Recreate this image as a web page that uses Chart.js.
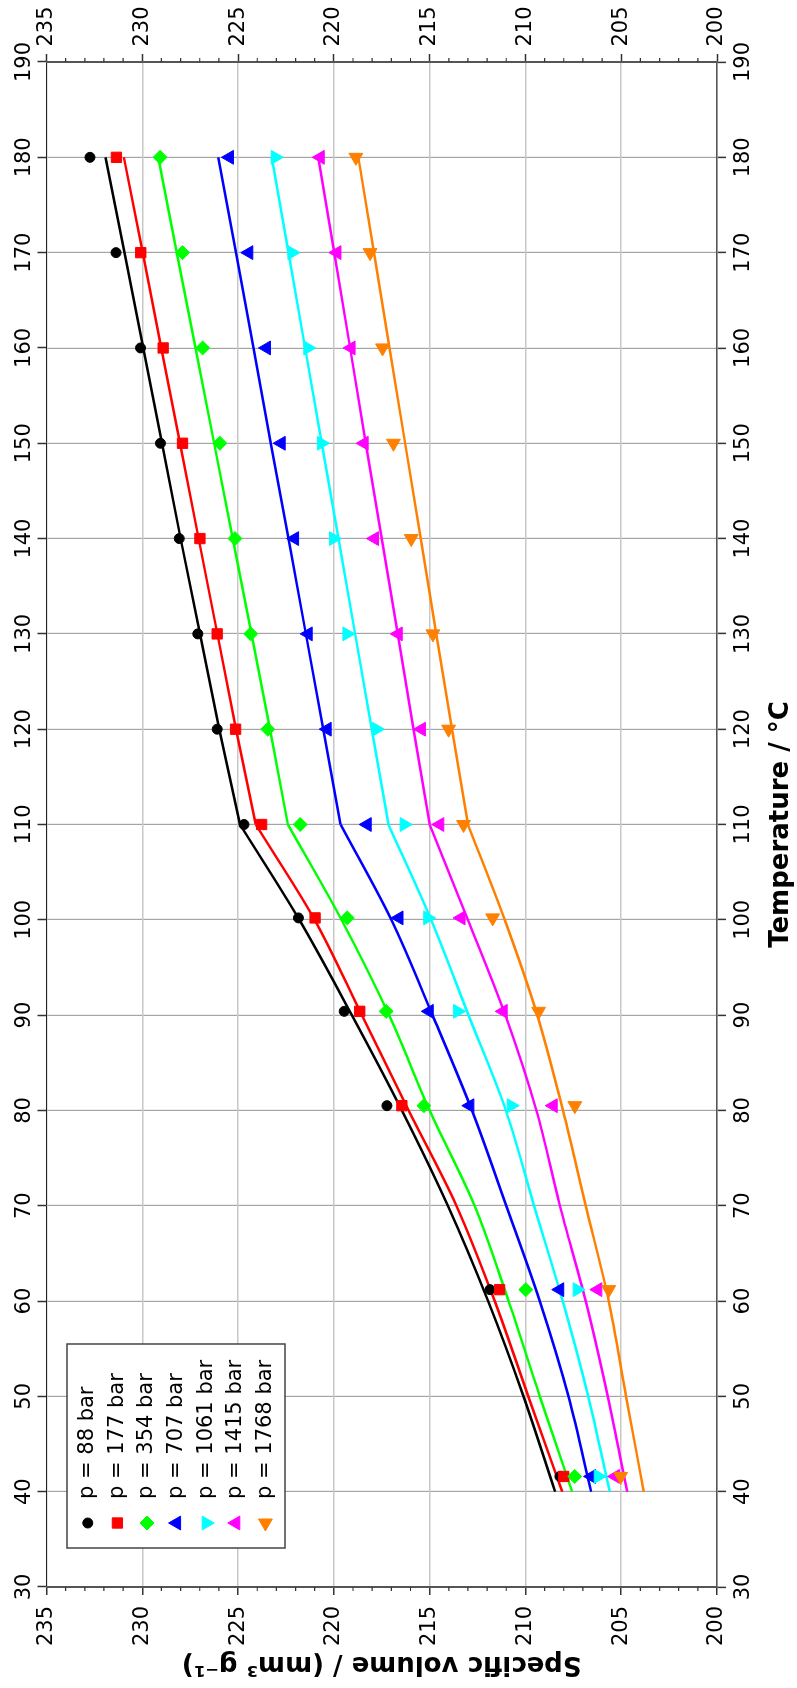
<!DOCTYPE html>
<html>
<head>
<meta charset="utf-8">
<script src="https://cdn.jsdelivr.net/npm/chart.js@4.4.1/dist/chart.umd.min.js"></script>
<style>
  html, body { margin: 0; padding: 0; background: #fff; overflow: hidden; }
  /* chart is drawn landscape and turned a quarter turn to the left */
  #wrap { position: absolute; left: 0; top: 0; width: 1688px; height: 797px;
          transform-origin: 0 0; transform: translateY(1688px) rotate(-90deg); }
</style>
</head>
<body>
<div id="wrap"><canvas id="chart" width="1688" height="797"></canvas></div>
<script>
// measured temperatures (°C)
const measT = [41.6, 61.2, 80.5, 90.4, 100.2, 110, 120, 130, 140, 150, 160, 170, 180];
// temperatures where the fitted curves are read
const fitT = [40, 50, 60, 70, 80, 90, 100, 110, 120, 130, 140, 150, 160, 170, 180];
const kinkT = 110; // curves change from melt to glass branch here

const pressureLabels = ['p = 88 bar', 'p = 177 bar', 'p = 354 bar', 'p = 707 bar',
                        'p = 1061 bar', 'p = 1415 bar', 'p = 1768 bar'];

// measured specific volume, mm3/g
const meas88   = [208.2, 211.85, 217.23, 219.46, 221.85, 224.69, 226.09, 227.1, 228.07, 229.05, 230.09, 231.37, 232.73];
const meas177  = [208.0, 211.35, 216.45, 218.65, 220.98, 223.77, 225.13, 226.09, 226.99, 227.9, 228.91, 230.08, 231.35];
const meas354  = [207.43, 209.98, 215.3, 217.27, 219.3, 221.76, 223.45, 224.34, 225.16, 225.95, 226.85, 227.9, 229.07];
const meas707  = [206.55, 208.21, 212.9, 215.02, 216.6, 218.26, 220.35, 221.34, 222.05, 222.75, 223.52, 224.44, 225.45];
const meas1061 = [206.2, 207.3, 210.74, 213.54, 215.1, 216.33, 217.78, 219.32, 220.02, 220.65, 221.36, 222.19, 223.06];
const meas1415 = [205.3, 206.22, 208.55, 211.16, 213.36, 214.47, 215.43, 216.64, 217.88, 218.42, 219.1, 219.84, 220.71];
const meas1768 = [205.03, 205.65, 207.42, 209.31, 211.71, 213.23, 214.01, 214.83, 215.96, 216.89, 217.46, 218.11, 218.85];

// fitted curves
const fit88   = [208.45, 210.1, 211.95, 214.05, 216.45, 219.06, 221.8, 224.9, 225.98, 226.99, 228.0, 228.97, 229.95, 230.93, 231.92];
const fit177  = [208.08, 209.85, 211.6, 213.6, 216.1, 218.54, 221.0, 224.08, 225.11, 226.08, 227.06, 228.03, 229.01, 229.98, 230.96];
const fit354  = [207.56, 209.25, 210.88, 212.65, 215.0, 217.12, 219.6, 222.4, 223.33, 224.3, 225.28, 226.25, 227.22, 228.2, 229.17];
const fit707  = [206.57, 207.75, 209.25, 211.0, 212.79, 214.85, 217.0, 219.65, 220.55, 221.46, 222.37, 223.29, 224.2, 225.11, 226.03];
const fit1061 = [205.6, 206.72, 208.05, 209.55, 211.02, 212.97, 214.92, 217.15, 218.02, 218.89, 219.76, 220.63, 221.5, 222.37, 223.24];
const fit1415 = [204.69, 205.7, 206.85, 208.2, 209.43, 211.05, 213.0, 215.0, 215.84, 216.67, 217.5, 218.33, 219.15, 219.98, 220.81];
const fit1768 = [203.82, 204.75, 205.65, 206.85, 208.04, 209.38, 211.08, 213.0, 213.83, 214.65, 215.46, 216.28, 217.09, 217.91, 218.72];

const measSets = [meas88, meas177, meas354, meas707, meas1061, meas1415, meas1768];
const fitSets = [fit88, fit177, fit354, fit707, fit1061, fit1415, fit1768];

const colors = ['#000000', '#ff0000', '#00ff00', '#0000ff', '#00ffff', '#ff00ff', '#ff8000'];
const marks = [
  { style: 'circle', rot: 0, r: 5 },
  { style: 'rect', rot: 0, r: 7.3 },
  { style: 'rectRot', rot: 0, r: 7 },
  { style: 'triangle', rot: 0, r: 8 },
  { style: 'triangle', rot: 180, r: 8 },
  { style: 'triangle', rot: 0, r: 8 },
  { style: 'triangle', rot: 270, r: 8 }
];

Chart.defaults.font.family = '"DejaVu Sans", Verdana, sans-serif';
Chart.defaults.font.size = 21;
Chart.defaults.color = '#000';

const datasets = [];
fitSets.forEach((vals, i) => {
  const pts = fitT.map((t, k) => ({ x: t, y: vals[k] }));
  // melt branch (curved) and glass branch (straight) as two pieces
  datasets.push({
    data: pts.filter(p => p.x <= kinkT),
    showLine: true,
    borderColor: colors[i],
    borderWidth: 2.5,
    pointRadius: 0,
    cubicInterpolationMode: 'monotone',
    order: 20 + i
  });
  datasets.push({
    data: pts.filter(p => p.x >= kinkT),
    showLine: true,
    borderColor: colors[i],
    borderWidth: 2.5,
    pointRadius: 0,
    tension: 0,
    order: 20 + i
  });
});
measSets.forEach((vals, i) => {
  datasets.push({
    data: measT.map((t, k) => ({ x: t, y: vals[k] })),
    showLine: false,
    backgroundColor: colors[i],
    borderColor: colors[i],
    pointStyle: marks[i].style,
    pointRotation: marks[i].rot,
    pointRadius: marks[i].r,
    pointBorderWidth: 1,
    order: 10 - i
  });
});

// small ticks every 1 mm3/g on both volume axes
const minorTicks = {
  id: 'minorTicks',
  afterDraw(chart) {
    const ctx = chart.ctx, a = chart.chartArea, y = chart.scales.y;
    ctx.save();
    ctx.strokeStyle = '#333';
    ctx.lineWidth = 1.2;
    for (let v = 201; v < 235; v++) {
      if (v % 5 === 0) continue;
      const py = y.getPixelForValue(v);
      ctx.beginPath();
      ctx.moveTo(a.left, py); ctx.lineTo(a.left - 4, py);
      ctx.moveTo(a.right, py); ctx.lineTo(a.right + 4, py);
      ctx.stroke();
    }
    ctx.restore();
  }
};

// boxed legend inside the plot
const insideLegend = {
  id: 'insideLegend',
  afterDraw(chart) {
    const ctx = chart.ctx, a = chart.chartArea;
    const x0 = a.left + 39, y0 = a.top + 20.5, w = 204, h = 218;
    ctx.save();
    ctx.fillStyle = '#fff';
    ctx.fillRect(x0, y0, w, h);
    ctx.strokeStyle = '#444';
    ctx.lineWidth = 1.5;
    ctx.strokeRect(x0, y0, w, h);
    ctx.font = '21px "DejaVu Sans"';
    ctx.textBaseline = 'middle';
    ctx.textAlign = 'left';
    pressureLabels.forEach((lab, i) => {
      const cy = y0 + 20.8 + i * 29.6;
      ctx.fillStyle = colors[i];
      ctx.strokeStyle = colors[i];
      ctx.lineWidth = 1;
      Chart.helpers.drawPoint(ctx, { pointStyle: marks[i].style, rotation: marks[i].rot, radius: marks[i].r, borderWidth: 1 }, x0 + 25, cy);
      ctx.fillStyle = '#000';
      ctx.fillText(lab, x0 + 49, cy);
    });
    ctx.restore();
  }
};

new Chart(document.getElementById('chart'), {
  type: 'scatter',
  data: { datasets: datasets },
  options: {
    responsive: false,
    animation: false,
    devicePixelRatio: 1,
    events: [],
    layout: { padding: 0 },
    plugins: { legend: { display: false }, tooltip: { enabled: false } },
    scales: {
      x: {
        type: 'linear', position: 'bottom', min: 30, max: 190,
        ticks: { stepSize: 10, padding: 5, maxRotation: 0 },
        grid: { color: '#a4a4a4', lineWidth: 1.2, tickLength: 9, tickColor: '#333', tickWidth: 1.5 },
        border: { color: '#555', width: 1.5 },
        title: { display: true, text: 'Temperature / °C', font: { size: 26, weight: 'bold' }, padding: { top: 0, bottom: 0 } },
        afterFit: s => { s.height = 80; }
      },
      x2: {
        type: 'linear', position: 'top', min: 30, max: 190,
        ticks: { stepSize: 10, padding: 0, maxRotation: 0 },
        grid: { drawOnChartArea: false, tickLength: 9, tickColor: '#333', tickWidth: 1.5 },
        border: { color: '#222', width: 1 },
        afterFit: s => { s.height = 46.5; }
      },
      y: {
        type: 'linear', position: 'left', min: 200, max: 235,
        ticks: { stepSize: 5, padding: 11 },
        grid: { color: '#c8c8c8', lineWidth: 1.5, tickLength: 8, tickColor: '#333', tickWidth: 1.5 },
        border: { color: '#555', width: 2 },
        title: { display: true, text: 'Specific volume / (mm³ g⁻¹)', font: { size: 26, weight: 'bold' }, padding: { top: 8.7, bottom: 0 } },
        afterFit: s => { s.width = 101; }
      },
      y2: {
        type: 'linear', position: 'right', min: 200, max: 235,
        ticks: { stepSize: 5, padding: 7.5 },
        grid: { drawOnChartArea: false, tickLength: 8, tickColor: '#333', tickWidth: 1.5 },
        border: { color: '#555', width: 2 },
        afterFit: s => { s.width = 62; }
      }
    }
  },
  plugins: [minorTicks, insideLegend]
});
</script>
</body>
</html>
